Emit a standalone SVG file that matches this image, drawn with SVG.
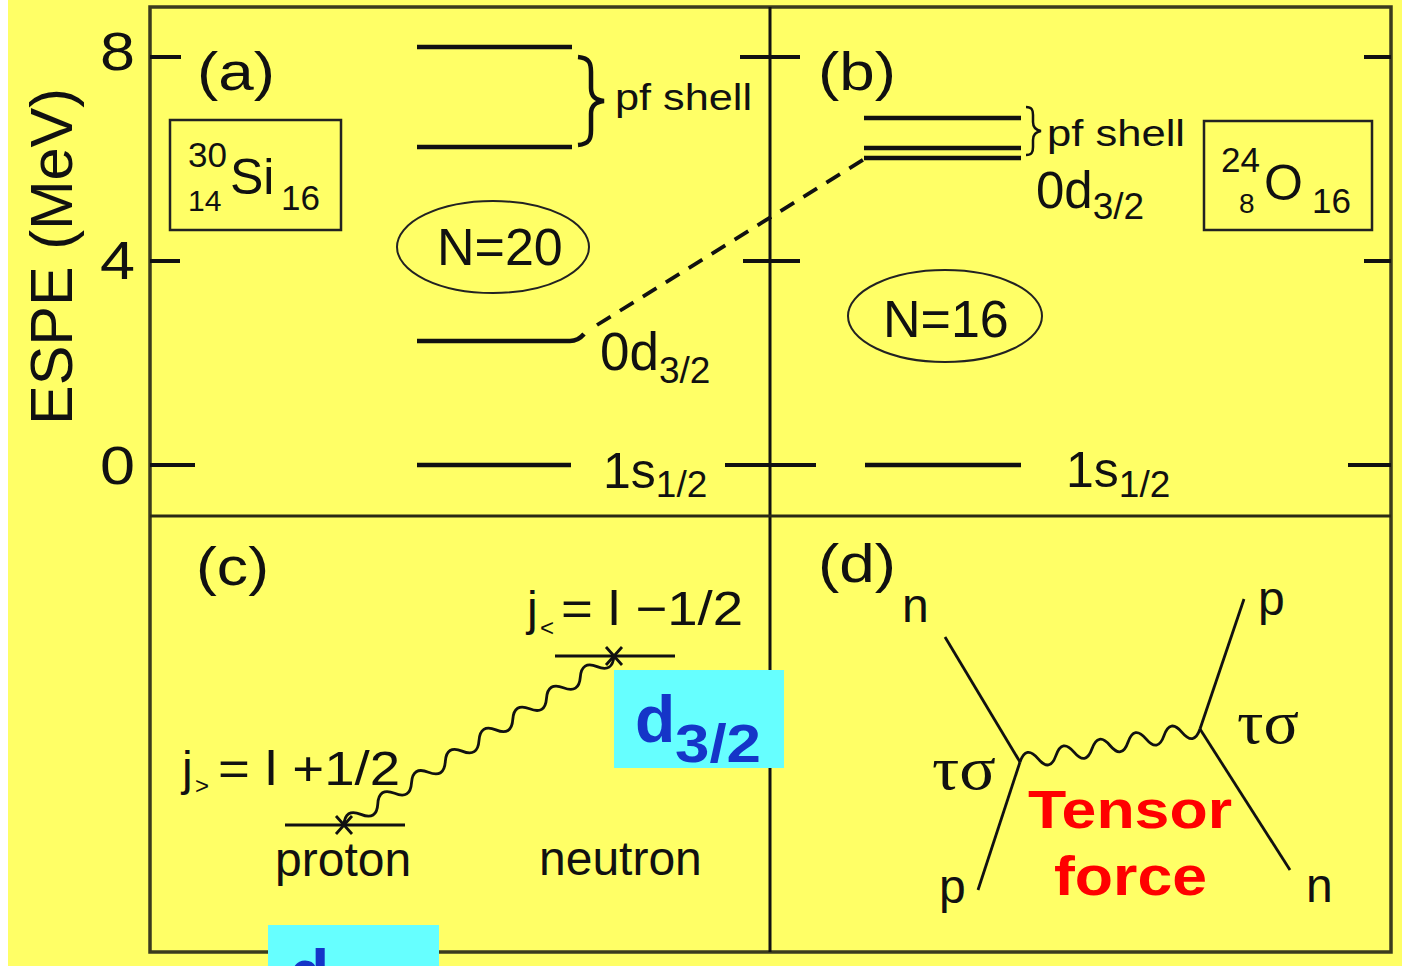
<svg xmlns="http://www.w3.org/2000/svg" width="1402" height="966" viewBox="0 0 1402 966">
<style>
.t{font-family:"Liberation Sans",Arial,sans-serif;fill:#111}
.lv{stroke:#111;stroke-width:4.5;fill:none}
.tk{stroke:#111;stroke-width:4;fill:none}
.thin{stroke:#111;stroke-width:2.5;fill:none}
.ln{stroke:#111;stroke-width:2.8;fill:none}
.blue{font-family:"Liberation Sans",Arial,sans-serif;font-weight:bold;fill:#1535c8}
</style>
<rect x="0" y="0" width="1402" height="966" fill="#FFFF66"/>
<rect x="0" y="0" width="8" height="966" fill="#ffffff"/>

<g id="frame">
<rect x="150" y="7" width="1241" height="945" fill="none" stroke="#3b3b1e" stroke-width="3.5"/>
<line x1="770" y1="7" x2="770" y2="952" stroke="#111" stroke-width="3"/>
<line x1="150" y1="516" x2="1391" y2="516" stroke="#2a2a14" stroke-width="3"/>
</g>

<g id="axis">
<line class="tk" x1="150" y1="57" x2="181" y2="57"/>
<line class="tk" x1="150" y1="261" x2="180" y2="261"/>
<line class="tk" x1="150" y1="465" x2="195" y2="465"/>
<line class="tk" x1="740" y1="57" x2="800" y2="57"/>
<line class="tk" x1="743" y1="261" x2="800" y2="261"/>
<line class="tk" x1="725" y1="465" x2="816" y2="465"/>
<line class="tk" x1="1364" y1="57" x2="1391" y2="57"/>
<line class="tk" x1="1364" y1="261" x2="1391" y2="261"/>
<line class="tk" x1="1348" y1="465" x2="1391" y2="465"/>
<text class="t" x="100" y="70" font-size="53" textLength="35" lengthAdjust="spacingAndGlyphs">8</text>
<text class="t" x="100" y="279" font-size="53" textLength="35" lengthAdjust="spacingAndGlyphs">4</text>
<text class="t" x="100" y="484" font-size="53" textLength="35" lengthAdjust="spacingAndGlyphs">0</text>
<text class="t" transform="translate(72,425) rotate(-90)" x="0" y="0" font-size="60" textLength="337" lengthAdjust="spacingAndGlyphs">ESPE (MeV)</text>
</g>

<g id="panel-a">
<text class="t" x="197" y="90" font-size="53" textLength="78" lengthAdjust="spacingAndGlyphs">(a)</text>
<rect x="170" y="120" width="171" height="110" fill="none" stroke="#222" stroke-width="2.5"/>
<text class="t" x="188" y="167" font-size="35">30</text>
<text class="t" x="188" y="211" font-size="30">14</text>
<text class="t" x="230" y="194" font-size="50">Si</text>
<text class="t" x="281" y="210" font-size="35">16</text>
<line class="lv" x1="417" y1="47" x2="572" y2="47"/>
<line class="lv" x1="417" y1="147" x2="572" y2="147"/>
<path class="lv" d="M578,57 C590,58 591,64 591,72 L591,88 C591,96 595,100 604,101 C595,102 591,106 591,114 L591,130 C591,138 590,144 578,145"/>
<text class="t" x="615" y="110" font-size="37" textLength="137" lengthAdjust="spacingAndGlyphs">pf shell</text>
<ellipse cx="493" cy="247" rx="96" ry="46" fill="none" stroke="#222" stroke-width="2"/>
<text class="t" x="437" y="265" font-size="52">N=20</text>
<path class="lv" d="M417,341 L570,341 Q578,341 584,334" stroke-width="3.8"/>
<text class="t" x="600" y="370" font-size="53">0d<tspan font-size="37" dy="13">3/2</tspan></text>
<line class="lv" x1="417" y1="465" x2="571" y2="465"/>
<text class="t" x="603" y="488" font-size="50">1s<tspan font-size="37" dy="9">1/2</tspan></text>
</g>

<g id="panel-b">
<text class="t" x="818" y="90" font-size="53" textLength="78" lengthAdjust="spacingAndGlyphs">(b)</text>
<line class="lv" x1="864" y1="118" x2="1021" y2="118"/>
<line class="lv" x1="864" y1="148" x2="1021" y2="148"/>
<line class="lv" x1="864" y1="158" x2="1021" y2="158"/>
<path class="thin" stroke-width="3" d="M1026,107 C1032,107 1033,110 1033,115 L1033,122 C1033,127 1035,130 1041,131 C1035,132 1033,135 1033,140 L1033,147 C1033,152 1032,155 1026,155"/>
<text class="t" x="1047" y="146" font-size="37" textLength="138" lengthAdjust="spacingAndGlyphs">pf shell</text>
<text class="t" x="1036" y="208" font-size="51">0d<tspan font-size="37" dy="11">3/2</tspan></text>
<rect x="1204" y="121" width="168" height="109" fill="none" stroke="#222" stroke-width="2.5"/>
<text class="t" x="1221" y="172" font-size="35">24</text>
<text class="t" x="1239" y="213" font-size="28">8</text>
<text class="t" x="1264" y="200" font-size="50">O</text>
<text class="t" x="1312" y="213" font-size="35">16</text>
<ellipse cx="945" cy="316" rx="97" ry="46" fill="none" stroke="#222" stroke-width="2"/>
<text class="t" x="883" y="337" font-size="52">N=16</text>
<line class="lv" x1="865" y1="465" x2="1021" y2="465"/>
<text class="t" x="1066" y="487" font-size="50">1s<tspan font-size="37" dy="10">1/2</tspan></text>
</g>

<g id="panel-c">
<text class="t" x="196" y="585" font-size="53" textLength="73" lengthAdjust="spacingAndGlyphs">(c)</text>
<text class="t" x="527" y="625" font-size="48">j</text>
<text class="t" x="540" y="636" font-size="24">&lt;</text>
<text class="t" x="561" y="625" font-size="48" textLength="182" lengthAdjust="spacingAndGlyphs">= l −1/2</text>
<line class="ln" x1="555" y1="656" x2="675" y2="656"/>
<path class="ln" d="M606,647 L622,665 M622,647 L606,665"/>
<text class="t" x="182" y="785" font-size="48">j</text>
<text class="t" x="195" y="794" font-size="24">&gt;</text>
<text class="t" x="218" y="785" font-size="48" textLength="182" lengthAdjust="spacingAndGlyphs">= l +1/2</text>
<line class="ln" x1="285" y1="825" x2="405" y2="825"/>
<path class="ln" d="M336,816 L352,834 M352,816 L336,834"/>
<text class="t" x="275" y="876" font-size="48">proton</text>
<text class="t" x="539" y="875" font-size="48">neutron</text>
<rect x="614" y="670" width="170" height="98" fill="#66FFFF"/>
<text class="blue" x="635" y="742" font-size="66">d</text>
<text class="blue" x="675" y="762" font-size="54" textLength="86" lengthAdjust="spacingAndGlyphs">3/2</text>
<rect x="268" y="925" width="171" height="41" fill="#66FFFF"/>
<text class="blue" x="289" y="996" font-size="66">d</text>
</g>

<g id="panel-d">
<text class="t" x="818" y="582" font-size="53" textLength="78" lengthAdjust="spacingAndGlyphs">(d)</text>
<line class="ln" x1="945" y1="637" x2="1020" y2="762"/>
<line class="ln" x1="1020" y1="762" x2="978" y2="890"/>
<line class="ln" x1="1244" y1="599" x2="1200" y2="729"/>
<line class="ln" x1="1200" y1="729" x2="1290" y2="870"/>
<text class="t" x="902" y="622" font-size="48">n</text>
<text class="t" x="1258" y="615" font-size="48">p</text>
<text class="t" x="939" y="903" font-size="48">p</text>
<text class="t" x="1306" y="902" font-size="48">n</text>
<text x="932" y="789" font-family="'Liberation Serif','DejaVu Serif',serif" font-size="62" fill="#111" textLength="64" lengthAdjust="spacingAndGlyphs">τσ</text>
<text x="1237" y="743" font-family="'Liberation Serif','DejaVu Serif',serif" font-size="62" fill="#111" textLength="62" lengthAdjust="spacingAndGlyphs">τσ</text>
<text x="1028" y="828" font-family="'Liberation Sans',Arial,sans-serif" font-weight="bold" font-size="54" fill="#ff0000" textLength="204" lengthAdjust="spacingAndGlyphs">Tensor</text>
<text x="1054" y="895" font-family="'Liberation Sans',Arial,sans-serif" font-weight="bold" font-size="56" fill="#ff0000" textLength="153" lengthAdjust="spacingAndGlyphs">force</text>
</g>

<g id="connectors">
<path d="M597,325 L866,158" fill="none" stroke="#111" stroke-width="3.8" stroke-dasharray="16 11"/>
<path class="ln" d="M344,825 Q345,807.9 360.9,814.4 T377.8,803.9 T394.6,793.3 T411.5,782.8 T428.4,772.2 T445.3,761.6 T462.1,751.1 T479,740.5 T495.9,729.9 T512.8,719.4 T529.6,708.8 T546.5,698.3 T563.4,687.7 T580.3,677.1 T597.1,666.6 T614,656"/>
<path class="ln" d="M1020,762 Q1026.1,744.6 1038,758.7 T1056,755.4 T1074,752.1 T1092,748.8 T1110,745.5 T1128,742.2 T1146,738.9 T1164,735.6 T1182,732.3 T1200,729"/>
</g>
</svg>
